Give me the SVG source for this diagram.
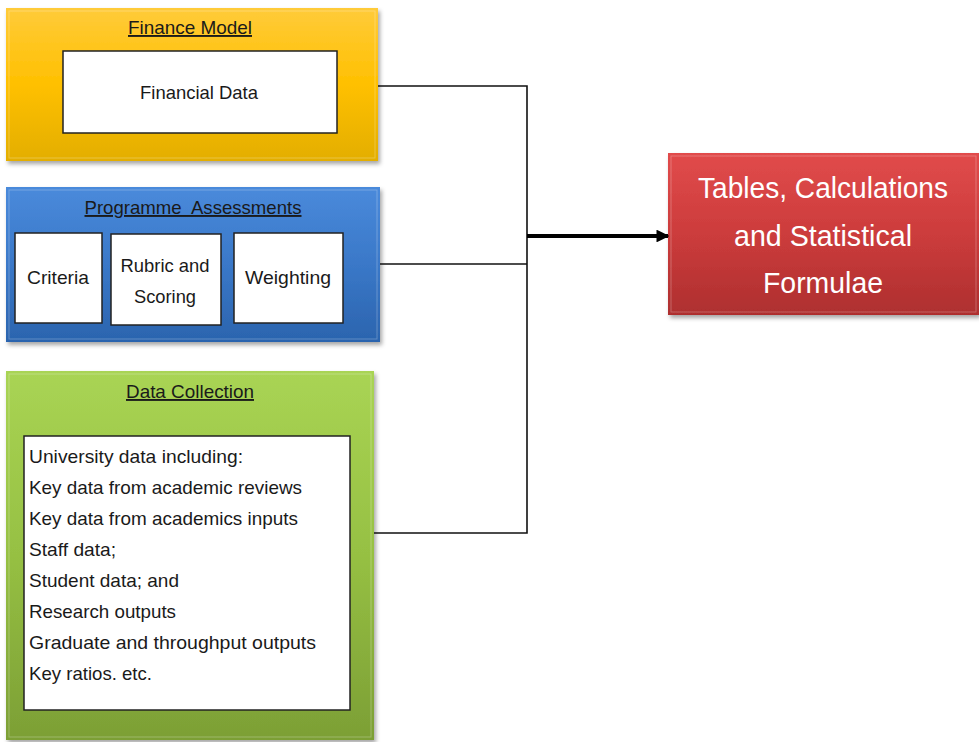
<svg xmlns="http://www.w3.org/2000/svg" width="979" height="742" viewBox="0 0 979 742">
<defs>
<linearGradient id="gY" x1="0" y1="0" x2="0" y2="1"><stop offset="0" stop-color="#FFCB3A"/><stop offset="0.5" stop-color="#FFC000"/><stop offset="1" stop-color="#E3AE00"/></linearGradient>
<linearGradient id="gB" x1="0" y1="0" x2="0" y2="1"><stop offset="0" stop-color="#4A8ADB"/><stop offset="0.5" stop-color="#3A78C8"/><stop offset="1" stop-color="#2B64AE"/></linearGradient>
<linearGradient id="gG" x1="0" y1="0" x2="0" y2="1"><stop offset="0" stop-color="#A9D454"/><stop offset="0.5" stop-color="#96C043"/><stop offset="1" stop-color="#7C9F35"/></linearGradient>
<linearGradient id="gR" x1="0" y1="0" x2="0" y2="1"><stop offset="0" stop-color="#E14B4B"/><stop offset="0.5" stop-color="#CC3C3C"/><stop offset="1" stop-color="#AE2F2F"/></linearGradient>
<filter id="sh" x="-5%" y="-5%" width="115%" height="115%"><feDropShadow dx="2" dy="3" stdDeviation="2" flood-color="#000" flood-opacity="0.35"/></filter>
<marker id="ah" viewBox="0 0 10 10" refX="9" refY="5" markerWidth="3.2" markerHeight="3.2" orient="auto"><path d="M0,0 L10,5 L0,10 z" fill="#000"/></marker>
</defs>
<style>
.t{font-family:"Liberation Sans",Arial,sans-serif;fill:#1a1a1a}
.h{font-size:19px;text-decoration:underline;text-anchor:middle}
.w{fill:#fff;stroke:#222;stroke-width:1.5}
.c{font-size:19px;text-anchor:middle}
.l{font-size:19px}
.conn{fill:none;stroke:#111;stroke-width:1.6}
.hl{fill:none;stroke:#fff;stroke-opacity:0.25;stroke-width:1}
</style>
<g id="finance">
<rect x="6" y="8" width="372" height="153" fill="url(#gY)" filter="url(#sh)"/>
<rect x="9" y="11" width="366" height="147" class="hl"/>
<text class="t h" x="190" y="34" textLength="124" lengthAdjust="spacingAndGlyphs">Finance Model</text>
<rect x="63" y="51" width="274" height="82" class="w"/>
<text class="t c" x="199" y="99" textLength="118" lengthAdjust="spacingAndGlyphs">Financial Data</text>
</g>
<g id="programme">
<rect x="6" y="187" width="374" height="155" fill="url(#gB)" filter="url(#sh)"/>
<rect x="9" y="190" width="368" height="149" class="hl"/>
<text class="t h" x="193" y="214" xml:space="preserve" textLength="217" lengthAdjust="spacingAndGlyphs">Programme  Assessments</text>
<g id="criteria"><rect x="15" y="233" width="87" height="90" class="w"/><text class="t c" x="58" y="284" textLength="62" lengthAdjust="spacingAndGlyphs">Criteria</text></g>
<g id="rubric"><rect x="111" y="234" width="110" height="91" class="w"/><text class="t c" x="165" y="272" textLength="89" lengthAdjust="spacingAndGlyphs">Rubric and</text><text class="t c" x="165" y="303" textLength="62" lengthAdjust="spacingAndGlyphs">Scoring</text></g>
<g id="weighting"><rect x="234" y="233" width="109" height="90" class="w"/><text class="t c" x="288" y="284" textLength="86" lengthAdjust="spacingAndGlyphs">Weighting</text></g>
</g>
<g id="datacollection">
<rect x="6" y="371" width="368" height="369" fill="url(#gG)" filter="url(#sh)"/>
<rect x="9" y="374" width="362" height="363" class="hl"/>
<text class="t h" x="190" y="398" textLength="128" lengthAdjust="spacingAndGlyphs">Data Collection</text>
<rect x="24" y="436" width="326" height="274" class="w"/>
<text class="t l" x="29" y="463" textLength="214" lengthAdjust="spacingAndGlyphs">University data including:</text>
<text class="t l" x="29" y="494" textLength="273" lengthAdjust="spacingAndGlyphs">Key data from academic reviews</text>
<text class="t l" x="29" y="525" textLength="269" lengthAdjust="spacingAndGlyphs">Key data from academics inputs</text>
<text class="t l" x="29" y="556" textLength="87" lengthAdjust="spacingAndGlyphs">Staff data;</text>
<text class="t l" x="29" y="587" textLength="150" lengthAdjust="spacingAndGlyphs">Student data; and</text>
<text class="t l" x="29" y="618" textLength="147" lengthAdjust="spacingAndGlyphs">Research outputs</text>
<text class="t l" x="29" y="649" textLength="287" lengthAdjust="spacingAndGlyphs">Graduate and throughput outputs</text>
<text class="t l" x="29" y="680" textLength="123" lengthAdjust="spacingAndGlyphs">Key ratios. etc.</text>
</g>
<g id="tables">
<rect x="668" y="153" width="311" height="162" fill="url(#gR)" filter="url(#sh)"/>
<rect x="671" y="156" width="305" height="156" class="hl"/>
<text class="t" x="823" y="198" style="font-size:30px;fill:#fff;text-anchor:middle" textLength="250" lengthAdjust="spacingAndGlyphs">Tables, Calculations</text>
<text class="t" x="823" y="246" style="font-size:30px;fill:#fff;text-anchor:middle" textLength="178" lengthAdjust="spacingAndGlyphs">and Statistical</text>
<text class="t" x="823" y="293" style="font-size:30px;fill:#fff;text-anchor:middle" textLength="120" lengthAdjust="spacingAndGlyphs">Formulae</text>
</g>
<g id="connectors">
<polyline class="conn" points="378,86 527,86 527,533 374,533"/>
<line class="conn" x1="380" y1="264" x2="527" y2="264"/>
<line x1="527" y1="236" x2="668" y2="236" stroke="#000" stroke-width="4" marker-end="url(#ah)"/>
</g>
</svg>
